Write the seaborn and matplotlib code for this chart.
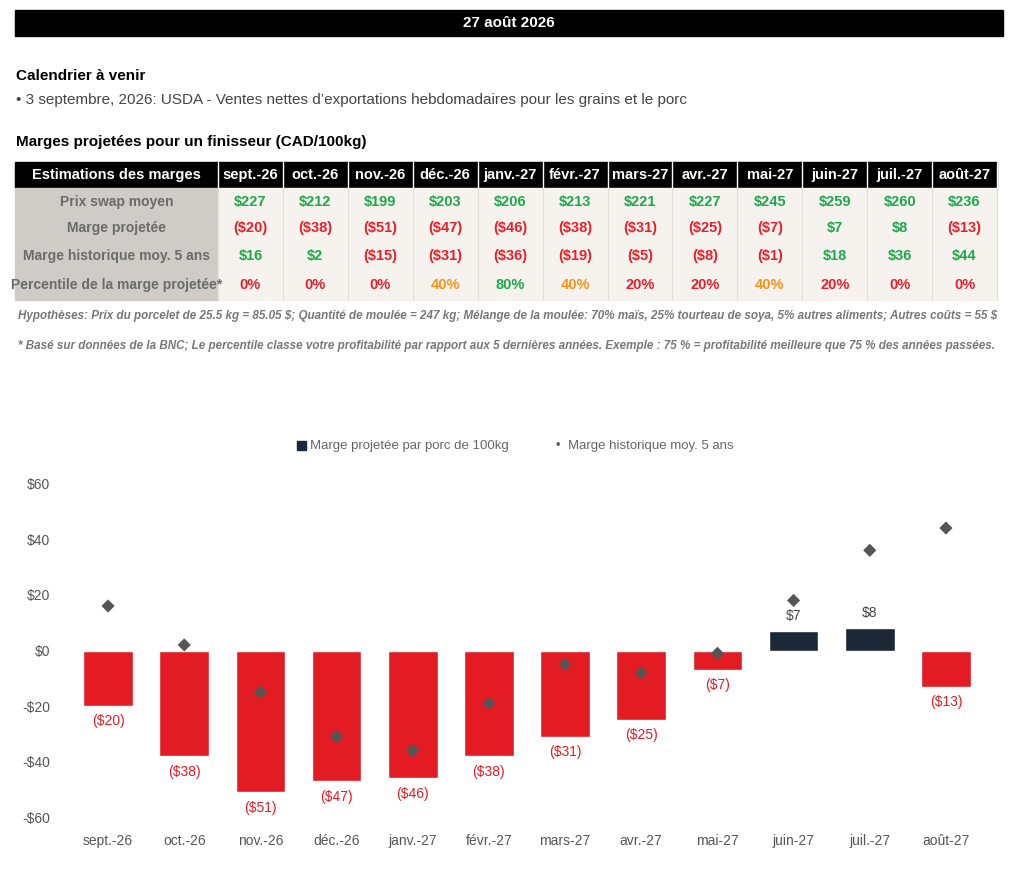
import numpy as np
import pandas as pd
import matplotlib.pyplot as plt
import seaborn as sns
from matplotlib.patches import Rectangle

# data
mois = ["sept.-26", "oct.-26", "nov.-26", "déc.-26", "janv.-27", "févr.-27",
        "mars-27", "avr.-27", "mai-27", "juin-27", "juil.-27", "août-27"]
prix_swap = [227, 212, 199, 203, 206, 213, 221, 227, 245, 259, 260, 236]
marge_proj = [-20, -38, -51, -47, -46, -38, -31, -25, -7, 7, 8, -13]
marge_hist = [16, 2, -15, -31, -36, -19, -5, -8, -1, 18, 36, 44]
percentile = [0, 0, 0, 40, 80, 40, 20, 20, 40, 20, 0, 0]

GREEN = "#1DA84A"
RED = "#E8202A"
ORANGE = "#F7941D"
NAVY = "#1B2838"
BARRED = "#E31B23"

sns.set_theme(style="white")
plt.rcParams['font.family'] = ['Liberation Sans', 'DejaVu Sans']
plt.rcParams['text.parse_math'] = False

W, H = 1024, 888
fig = plt.figure(figsize=(W / 100, H / 100), dpi=100)

def fx(x):
    return x / W

def fy(y):
    return 1 - y / H

def rect(x0, y0, x1, y1, color):
    fig.patches.append(Rectangle((fx(x0), fy(y1)), fx(x1) - fx(x0), fy(y0) - fy(y1),
                                 transform=fig.transFigure, color=color, zorder=0))

def txt(x, y, s, **kw):
    fig.text(fx(x), fy(y), s, va="center", **kw)

def money(v):
    return f"${v}" if v >= 0 else f"(${-v})"

# title banner
rect(15, 10, 1003, 36, "black")
txt(509, 23, "27 août 2026", color="white", ha="center", fontsize=11, fontweight="bold")

txt(16, 76, "Calendrier à venir", fontsize=11, fontweight="bold", color="black")
txt(16, 100, "• 3 septembre, 2026: USDA - Ventes nettes d’exportations hebdomadaires pour les grains et le porc",
    fontsize=11, color="#444444")
txt(16, 142, "Marges projetées pour un finisseur (CAD/100kg)", fontsize=11, fontweight="bold", color="black")

# table
tx0, tx1, c0 = 15, 997, 218
cw = (tx1 - c0) / 12
rect(tx0, 162, tx1, 188, "black")
rect(tx0, 188, c0, 300, "#CFCBC6")
rect(c0, 188, tx1, 300, "#F6F3EF")
for i in range(13):
    x = c0 + i * cw
    fig.lines.append(plt.Line2D([fx(x), fx(x)], [fy(162), fy(188)], color="white", lw=1,
                                transform=fig.transFigure))
    fig.lines.append(plt.Line2D([fx(x), fx(x)], [fy(188), fy(300)], color="#E2DED9", lw=0.8,
                                transform=fig.transFigure))
txt((tx0 + c0) / 2, 175, "Estimations des marges", color="white", ha="center", fontsize=10.5,
    fontweight="bold")
labels = ["Prix swap moyen", "Marge projetée", "Marge historique moy. 5 ans",
          "Percentile de la marge projetée*"]
row_y = [202, 228, 256, 285]
for lab, y in zip(labels, row_y):
    txt((tx0 + c0) / 2, y, lab, color="#6B6B6B", ha="center", fontsize=10, fontweight="bold")

def pcolor(p):
    if p in (0, 20):
        return RED
    if p == 40:
        return ORANGE
    return GREEN

for i, m in enumerate(mois):
    cx = c0 + (i + 0.5) * cw
    txt(cx, 175, m, color="white", ha="center", fontsize=10.5, fontweight="bold")
    txt(cx, row_y[0], money(prix_swap[i]), color=GREEN, ha="center", fontsize=10.5, fontweight="bold")
    v = marge_proj[i]
    txt(cx, row_y[1], money(v), color=GREEN if v >= 0 else RED, ha="center", fontsize=10.5, fontweight="bold")
    v = marge_hist[i]
    txt(cx, row_y[2], money(v), color=GREEN if v >= 0 else RED, ha="center", fontsize=10.5, fontweight="bold")
    txt(cx, row_y[3], f"{percentile[i]}%", color=pcolor(percentile[i]), ha="center", fontsize=10.5,
        fontweight="bold")

txt(18, 316, "Hypothèses: Prix du porcelet de 25.5 kg = 85.05 $; Quantité de moulée = 247 kg; "
    "Mélange de la moulée: 70% maïs, 25% tourteau de soya, 5% autres aliments; Autres coûts = 55 $",
    color="#777777", fontsize=8.4, style="italic", fontweight="bold")
txt(18, 346, "* Basé sur données de la BNC; Le percentile classe votre profitabilité par rapport aux 5 dernières "
    "années. Exemple : 75 % = profitabilité meilleure que 75 % des années passées.",
    color="#777777", fontsize=8.4, style="italic", fontweight="bold")

# chart
ax = fig.add_axes([fx(70), fy(823), fx(984) - fx(70), fy(478) - fy(823)])
df = pd.DataFrame({"mois": mois, "proj": marge_proj, "hist": marge_hist})
df["couleur"] = np.where(df["proj"] >= 0, "pos", "neg")
sns.barplot(data=df, x="mois", y="proj", hue="couleur", palette={"pos": NAVY, "neg": BARRED},
            width=0.65, dodge=False, legend=False, saturation=1, ax=ax)
sns.scatterplot(data=df, x="mois", y="hist", marker="D", s=45, color="#555555",
                edgecolor="none", zorder=5, ax=ax)
for i, v in enumerate(marge_proj):
    if v >= 0:
        ax.text(i, v + 3, money(v), ha="center", va="bottom", fontsize=10, color="#444444")
    else:
        ax.text(i, v - 3, money(v), ha="center", va="top", fontsize=10, color=BARRED)
ax.set_xlim(-0.5, 11.5)
ax.set_ylim(-62, 62)
ax.set_yticks(range(-60, 61, 20))
ax.set_yticklabels([f"${t}" if t >= 0 else f"-${-t}" for t in range(-60, 61, 20)])
ax.tick_params(axis="both", length=0, labelsize=10, colors="#555555")
ax.tick_params(axis="y", pad=14)
ax.tick_params(axis="x", pad=8)
ax.set_xlabel("")
ax.set_ylabel("")
for s in ax.spines.values():
    s.set_visible(False)

# legend
rect(297, 441, 306, 450, NAVY)
txt(310, 446, "Marge projetée par porc de 100kg", fontsize=9.5, color="#666666")
txt(555, 446, "•", fontsize=9, color="#555555")
txt(568, 446, "Marge historique moy. 5 ans", fontsize=9.5, color="#666666")

fig.savefig("out.png", dpi=100, facecolor="white")
